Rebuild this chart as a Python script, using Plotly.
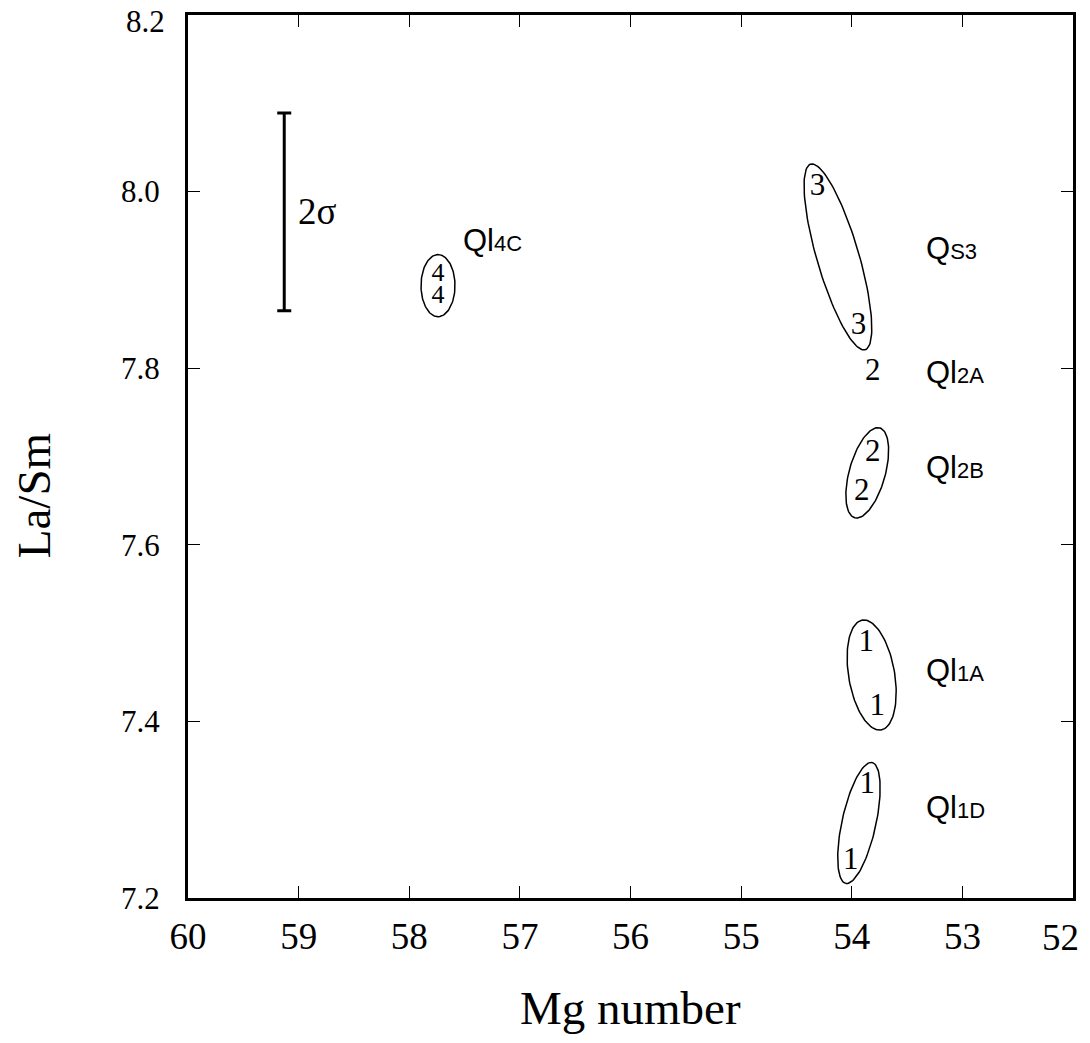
import numpy as np
import plotly.graph_objects as go

# ---------------- data ----------------
mg_number = [54.31, 53.94, 53.81, 53.81, 53.91, 53.87, 53.77, 53.86, 54.01, 57.74, 57.74]
la_sm = [8.005, 7.847, 7.795, 7.704, 7.659, 7.489, 7.416, 7.328, 7.242, 7.906, 7.881]
sample_digits = ["3", "3", "2", "2", "2", "1", "1", "1", "1", "4", "4"]
digit_sizes = [31, 31, 31, 31, 31, 31, 31, 31, 31, 26, 26]

group_names = ["S3", "2A", "2B", "1A", "1D", "4C"]
group_prefix = ["Q", "Ql", "Ql", "Ql", "Ql", "Ql"]
group_label_x = [53.345, 53.345, 53.345, 53.345, 53.345, 57.53]
group_label_y = [7.936, 7.795, 7.688, 7.458, 7.302, 7.945]

# pairs of sample indices enclosed by an ellipse, with padding / minor half-axis (px)
ellipse_pairs = [(0, 1), (3, 4), (5, 6), (7, 8), (9, 10)]
ellipse_pad = [24, 26, 23, 23, 20]
ellipse_minor = [21, 18, 23, 17, 17]

sigma_x = 59.13
sigma_center = 7.977
sigma_half = 0.112

x_ticks = [60, 59, 58, 57, 56, 55, 54, 53, 52]
y_ticks = [7.2, 7.4, 7.6, 7.8, 8.0, 8.2]

# ---------------- layout constants ----------------
# page body has an 8px margin, so the figure is drawn 8px in from the corner
W, H = 1074, 1027
ML, MR, MT, MB = 180, 9, 7, 137
PW, PH = W - ML - MR, H - MT - MB
X_RANGE = [60, 52]
Y_RANGE = [7.2, 8.2]
SX = PW / abs(X_RANGE[0] - X_RANGE[1])
SY = PH / abs(Y_RANGE[1] - Y_RANGE[0])

SERIF = "Liberation Serif, Times New Roman, serif"
SANS = "Liberation Sans, Arial, sans-serif"
X_TICK_SIZE, Y_TICK_SIZE = 37, 31

fig = go.Figure()


def ellipse_points(i, j, pad, minor, n=120):
    x1, y1 = mg_number[i] * SX, la_sm[i] * SY
    x2, y2 = mg_number[j] * SX, la_sm[j] * SY
    cx, cy = (x1 + x2) / 2, (y1 + y2) / 2
    dx, dy = x2 - x1, y2 - y1
    half = np.hypot(dx, dy) / 2 + pad
    ang = np.arctan2(dy, dx)
    t = np.linspace(0, 2 * np.pi, n)
    ex = half * np.cos(t)
    ey = minor * np.sin(t)
    px = cx + ex * np.cos(ang) - ey * np.sin(ang)
    py = cy + ex * np.sin(ang) + ey * np.cos(ang)
    return px / SX, py / SY


for (i, j), pad, mn in zip(ellipse_pairs, ellipse_pad, ellipse_minor):
    ex, ey = ellipse_points(i, j, pad, mn)
    fig.add_trace(go.Scatter(x=ex, y=ey, mode="lines",
                             line=dict(color="black", width=1.5),
                             hoverinfo="skip", showlegend=False))

# sample digits
fig.add_trace(go.Scatter(x=mg_number, y=la_sm, mode="text", text=sample_digits,
                         textposition="middle center",
                         textfont=dict(family=SERIF, size=digit_sizes, color="black"),
                         showlegend=False))

# 2 sigma error bar
fig.add_trace(go.Scatter(x=[sigma_x], y=[sigma_center], mode="markers",
                         marker=dict(size=1, color="rgba(0,0,0,0)"),
                         error_y=dict(type="data", array=[sigma_half], visible=True,
                                      color="black", thickness=3, width=7),
                         showlegend=False, hoverinfo="skip"))

annotations = []
annotations.append(dict(x=sigma_x, y=sigma_center, xref="x", yref="y",
                        text="2σ", showarrow=False, xanchor="left", yanchor="middle",
                        xshift=12, font=dict(family=SERIF, size=37, color="black")))

for pre, name, lx, ly in zip(group_prefix, group_names, group_label_x, group_label_y):
    annotations.append(dict(
        x=lx, y=ly, xref="x", yref="y", showarrow=False,
        xanchor="left", yanchor="middle",
        text=f'{pre}<span style="font-size:22px">{name}</span>',
        font=dict(family=SANS, size=31, color="black")))

# edge tick labels placed inside the page (the printed figure nudges them inward)
annotations.append(dict(x=0, y=y_ticks[-1], xref="paper", yref="y",
                        text=f"{y_ticks[-1]:.1f}", showarrow=False,
                        xanchor="right", yanchor="middle", xshift=-21, yshift=-6,
                        font=dict(family=SERIF, size=Y_TICK_SIZE, color="black")))
annotations.append(dict(x=x_ticks[-1], y=0, xref="x", yref="paper",
                        text=str(x_ticks[-1]), showarrow=False,
                        xanchor="right", yanchor="middle", xshift=8, yshift=-39,
                        font=dict(family=SERIF, size=X_TICK_SIZE, color="black")))

annotations.append(dict(x=0.5, y=-0.125, xref="paper", yref="paper",
                        text="Mg number", showarrow=False,
                        xanchor="center", yanchor="middle",
                        font=dict(family=SERIF, size=47, color="black")))
annotations.append(dict(x=-0.174, y=0.455, xref="paper", yref="paper",
                        text="La/Sm", showarrow=False, textangle=-90,
                        xanchor="center", yanchor="middle",
                        font=dict(family=SERIF, size=47, color="black")))

x_ticktext = [str(v) for v in x_ticks[:-1]] + [""]
y_ticktext = [f"{v:.1f}" for v in y_ticks[:-1]] + [""]

fig.update_layout(
    width=W, height=H, autosize=False,
    margin=dict(l=ML, r=MR, t=MT, b=MB, autoexpand=False),
    paper_bgcolor="white", plot_bgcolor="white",
    showlegend=False,
    annotations=annotations,
    xaxis=dict(range=X_RANGE, tickmode="array", tickvals=x_ticks,
               ticktext=x_ticktext, automargin=False,
               showgrid=False, zeroline=False,
               showline=True, linecolor="black", linewidth=3, mirror="ticks",
               ticks="inside", ticklen=12, tickwidth=1.2, tickcolor="black",
               ticklabelstandoff=4, ticklabeloverflow="allow",
               tickfont=dict(family=SERIF, size=X_TICK_SIZE, color="black")),
    yaxis=dict(range=Y_RANGE, tickmode="array", tickvals=y_ticks,
               ticktext=y_ticktext, automargin=False,
               showgrid=False, zeroline=False,
               showline=True, linecolor="black", linewidth=3, mirror="ticks",
               ticks="inside", ticklen=12, tickwidth=1.2, tickcolor="black",
               ticklabelstandoff=19, ticklabeloverflow="allow",
               tickfont=dict(family=SERIF, size=Y_TICK_SIZE, color="black")),
)

fig.write_html("out.html")
